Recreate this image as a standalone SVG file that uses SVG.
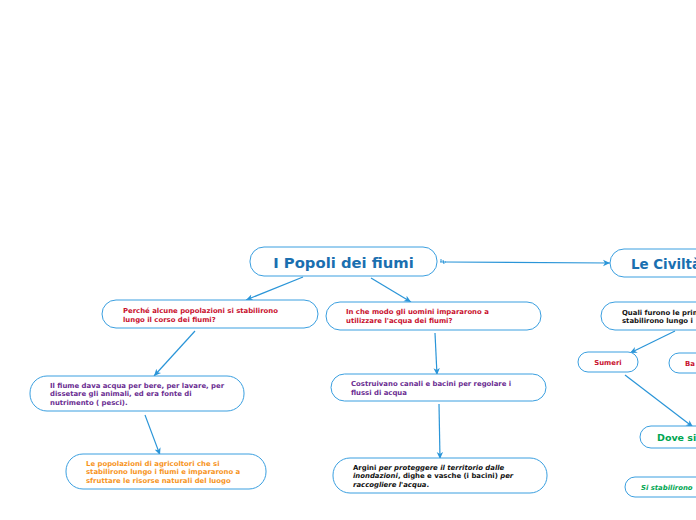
<svg xmlns="http://www.w3.org/2000/svg" width="696" height="520" viewBox="0 0 696 520">
<defs>
<style>
.n{fill:#fff;stroke:#3a9fe0;stroke-width:1}
.c{stroke:#2a95d8;stroke-width:1.2;fill:none;marker-end:url(#ah)}
text{font-family:"DejaVu Sans","Liberation Sans",sans-serif;font-weight:bold}
.s{font-size:6.9px}
.red{fill:#c8102e}.pur{fill:#6a2c91}.org{fill:#f7941d}.blk{fill:#111}.grn{fill:#00a651}.blu{fill:#1a6fb0}
</style>
<marker id="ah" markerWidth="8" markerHeight="8" refX="7" refY="4" orient="auto" markerUnits="userSpaceOnUse">
<path d="M0,0.8 L7,4 L0,7.2 L2,4 Z" fill="#2a95d8"/>
</marker>
</defs>
<rect width="696" height="520" fill="#fff"/>
<g id="connectors">
<line class="c" x1="445" y1="262" x2="610" y2="263"/>
<path d="M440,262 L446,262 M441,259 L441,262 M443,260 L444,264" stroke="#2a95d8" stroke-width="1" fill="none"/>
<line class="c" x1="303" y1="277" x2="246" y2="300"/>
<line class="c" x1="371" y1="278" x2="411" y2="302"/>
<line class="c" x1="195" y1="331" x2="154" y2="376"/>
<line class="c" x1="435" y1="333" x2="437" y2="375"/>
<line class="c" x1="145" y1="415" x2="160" y2="455"/>
<line class="c" x1="439" y1="404" x2="440" y2="459"/>
<line class="c" x1="675" y1="331" x2="630" y2="353"/>
<line class="c" x1="625" y1="375" x2="693" y2="427"/>
</g>
<g id="root">
<rect class="n" x="250" y="247" width="187" height="29" rx="14"/>
<text x="343.5" y="267.5" font-size="14.8" text-anchor="middle" class="blu">I Popoli dei fiumi</text>
</g>
<g id="civilta">
<rect class="n" x="610" y="249" width="110" height="28" rx="14"/>
<text x="631" y="268.5" font-size="13.4" class="blu">Le Civiltà</text>
</g>
<g id="perche">
<rect class="n" x="102" y="300" width="216" height="28" rx="14"/>
<text class="s red" x="123" y="313">Perché alcune popolazioni si stabilirono</text>
<text class="s red" x="123" y="321.5">lungo il corso dei fiumi?</text>
</g>
<g id="inchemodo">
<rect class="n" x="326" y="302" width="215" height="28" rx="14"/>
<text class="s red" x="346" y="314">In che modo gli uomini impararono a</text>
<text class="s red" x="346" y="323">utilizzare l'acqua dei fiumi?</text>
</g>
<g id="ilfiume">
<rect class="n" x="30" y="376" width="214" height="35" rx="17"/>
<text class="s pur" x="50" y="387.5">Il fiume dava acqua per bere, per lavare, per</text>
<text class="s pur" x="50" y="396">dissetare gli animali, ed era fonte di</text>
<text class="s pur" x="50" y="405">nutrimento ( pesci).</text>
</g>
<g id="costruivano">
<rect class="n" x="331" y="374" width="215" height="27" rx="13.5"/>
<text class="s pur" x="351" y="386">Costruivano canali e bacini per regolare i</text>
<text class="s pur" x="351" y="394.5">flussi di acqua</text>
</g>
<g id="popolazioni">
<rect class="n" x="66" y="454" width="200" height="35" rx="17"/>
<text class="s org" x="86" y="465.5">Le popolazioni di agricoltori che si</text>
<text class="s org" x="86" y="474">stabilirono lungo i fiumi e impararono a</text>
<text class="s org" x="86" y="483">sfruttare le risorse naturali del luogo</text>
</g>
<g id="argini">
<rect class="n" x="333" y="458" width="214" height="35" rx="17"/>
<text class="s blk" x="353" y="469.5">Argini <tspan font-style="italic">per proteggere il territorio dalle</tspan></text>
<text class="s blk" x="353" y="478"><tspan font-style="italic">inondazioni</tspan>, dighe e vasche (i bacini) <tspan font-style="italic">per</tspan></text>
<text class="s blk" x="353" y="487"><tspan font-style="italic">raccogliere l'acqua</tspan>.</text>
</g>
<g id="quali">
<rect class="n" x="601" y="302" width="120" height="28" rx="14"/>
<text class="s blk" x="622" y="314.5">Quali furono le prime</text>
<text class="s blk" x="622" y="322.5">stabilirono lungo i</text>
</g>
<g id="sumeri">
<rect class="n" x="578" y="352" width="60" height="20" rx="10"/>
<text class="s red" x="608" y="365" text-anchor="middle">Sumeri</text>
</g>
<g id="ba">
<rect class="n" x="669" y="353" width="50" height="20" rx="10"/>
<text class="s red" x="685" y="366">Ba</text>
</g>
<g id="dovesi">
<rect class="n" x="640" y="426" width="80" height="22" rx="11"/>
<text x="657" y="441" font-size="9.5" class="grn">Dove si</text>
</g>
<g id="sistabilirono">
<rect class="n" x="625" y="477" width="90" height="20" rx="10"/>
<text class="s grn" x="641" y="489.5" font-style="italic">Si stabilirono</text>
</g>
</svg>
